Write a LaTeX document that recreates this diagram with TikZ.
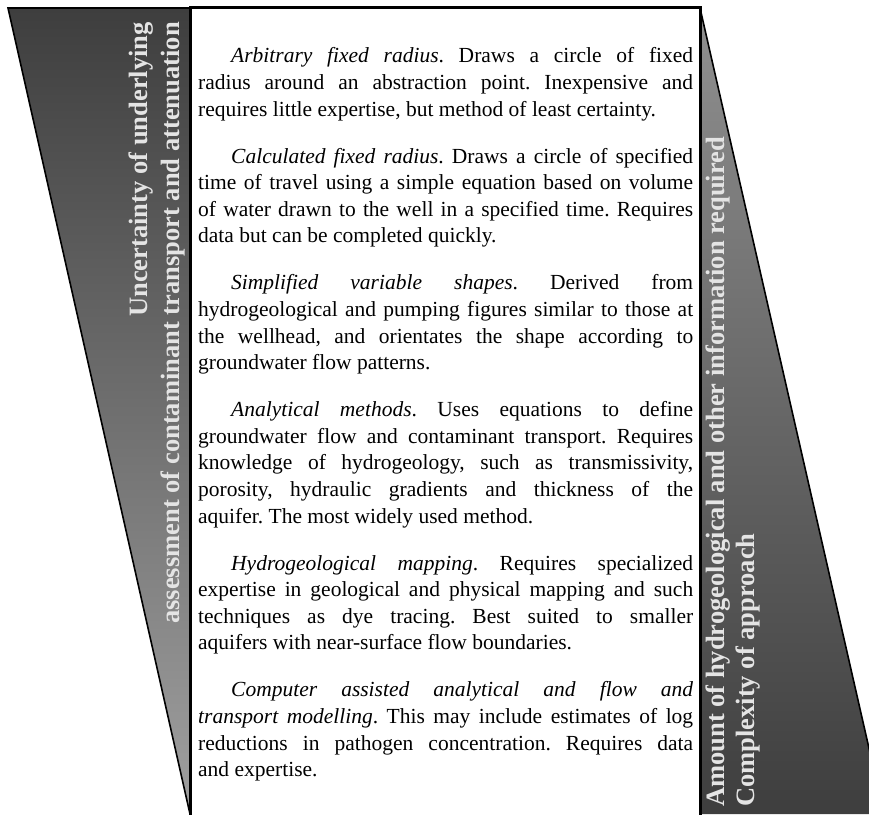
\documentclass[tikz,border=0pt]{standalone}
\usepackage{fontspec}
\setmainfont{Liberation Serif}
\definecolor{wedgedark}{HTML}{3E3E3E}
\definecolor{wedgelight}{HTML}{A0A0A0}
\definecolor{wedgetext}{HTML}{E4E4E4}
\tikzset{
  wedgeline/.style={line width=1.6pt, line join=miter},
  boxline/.style={line width=3pt},
  wedgelabel/.style={rotate=90, inner sep=0pt, text=wedgetext,
    font=\bfseries\fontsize{26.5}{30}\selectfont},
  bodytext/.style={anchor=north west, inner sep=0pt, text width=495pt, align=justify,
    font=\fontsize{21.5}{26.6}\selectfont}
}
\newcommand{\parstart}{\par\noindent\hspace*{33pt}}
\begin{document}
\begin{tikzpicture}[x=1pt,y=-1pt]
\useasboundingbox (0,0) rectangle (869,814);
\begin{scope}
\clip (0,0) rectangle (869,814);
% left wedge
\shade[top color=wedgedark, bottom color=wedgelight] (8,8) -- (190,8) -- (190,814) -- cycle;
\draw[wedgeline] (190,814) -- (8,8) -- (190,8);
% right wedge
\shade[top color=wedgelight!90!black, bottom color=wedgedark] (700,8) -- (884,814) -- (700,814) -- cycle;
\draw[wedgeline] (700,8) -- (884,814);
% text box
\fill[white] (190,7) rectangle (700,830);
\draw[boxline] (190,830) -- (190,7) -- (700,7) -- (700,830);
\end{scope}
% wedge labels
\node[wedgelabel, anchor=base east] (l1) at (147,22) {Uncertainty of underlying};
\node[wedgelabel, anchor=base east] (l2) at (179,22) {assessment of contaminant transport and attenuation};
\node[wedgelabel, anchor=base west] (r1) at (724,807) {Amount of hydrogeological and other information required};
\node[wedgelabel, anchor=base west] (r2) at (754,807) {Complexity of approach};
% body
\node[bodytext] (body) at (198,47.5) {\frenchspacing\tolerance=10000\hbadness=10000\setlength{\parskip}{20.4pt}%
\noindent\hspace*{33pt}\textit{Arbitrary fixed radius}. Draws a circle of fixed\linebreak
radius around an abstraction point. Inexpensive and\linebreak
requires little expertise, but method of least certainty.
\parstart\textit{Calculated fixed radius}. Draws a circle of specified\linebreak
time of travel using a simple equation based on volume\linebreak
of water drawn to the well in a specified time. Requires\linebreak
data but can be completed quickly.
\parstart\textit{Simplified variable shapes}. Derived from\linebreak
hydrogeological and pumping figures similar to those at\linebreak
the wellhead, and orientates the shape according to\linebreak
groundwater flow patterns.
\parstart\textit{Analytical methods}. Uses equations to define\linebreak
groundwater flow and contaminant transport. Requires\linebreak
knowledge of hydrogeology, such as transmissivity,\linebreak
porosity, hydraulic gradients and thickness of the\linebreak
aquifer. The most widely used method.
\parstart\textit{Hydrogeological mapping}. Requires specialized\linebreak
expertise in geological and physical mapping and such\linebreak
techniques as dye tracing. Best suited to smaller\linebreak
aquifers with near-surface flow boundaries.
\parstart\textit{Computer assisted analytical and flow and}\linebreak
\textit{transport modelling}. This may include estimates of log\linebreak
reductions in pathogen concentration. Requires data\linebreak
and expertise.};
\end{tikzpicture}
\end{document}
